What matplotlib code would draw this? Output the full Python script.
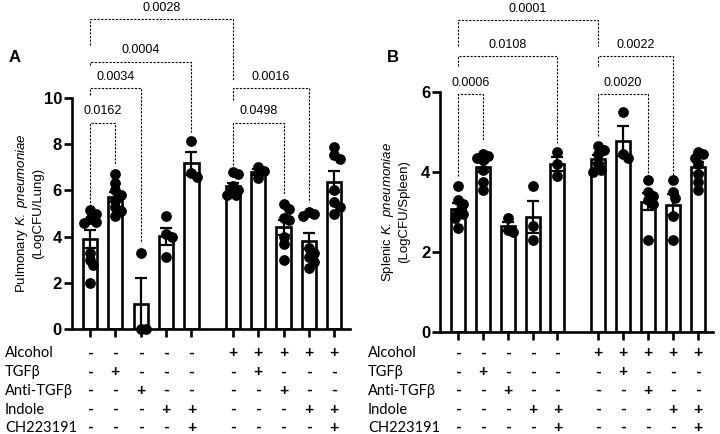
import numpy as np
import matplotlib.pyplot as plt
from matplotlib import transforms

plt.rcParams['font.family'] = ['Liberation Sans', 'DejaVu Sans']
plt.rcParams['mathtext.fontset'] = 'custom'
plt.rcParams['mathtext.rm'] = 'Liberation Sans'
plt.rcParams['mathtext.it'] = 'Liberation Sans:italic'

# treatment table under the x axis (1 = +, 0 = -)
row_names = ['Alcohol', 'TGFβ', 'Anti-TGFβ', 'Indole', 'CH223191']
alcohol = [0, 0, 0, 0, 0, 1, 1, 1, 1, 1]
tgfb = [0, 1, 0, 0, 0, 0, 1, 0, 0, 0]
anti_tgfb = [0, 0, 1, 0, 0, 0, 0, 1, 0, 0]
indole = [0, 0, 0, 1, 1, 0, 0, 0, 1, 1]
ch223191 = [0, 0, 0, 0, 1, 0, 0, 0, 0, 1]

# panel A, pulmonary CFU (log)
lung = [
    [5.15, 5.0, 4.75, 4.65, 4.6, 3.3, 3.0, 2.75, 2.0],
    [6.7, 6.3, 6.0, 5.8, 5.6, 5.3, 5.1, 4.9],
    [3.3, 0.0, 0.0],
    [4.9, 4.1, 4.0, 3.1],
    [8.15, 6.75, 6.6],
    [6.8, 6.7, 6.2, 6.0, 5.9, 5.8, 5.8],
    [7.0, 6.85, 6.55],
    [5.4, 5.2, 4.8, 4.7, 4.0, 3.7, 3.0],
    [5.05, 5.0, 4.9, 3.5, 3.3, 3.1, 2.9, 2.65],
    [7.9, 7.55, 7.35, 6.0, 5.5, 5.3, 5.0],
]
# panel B, splenic CFU (log)
spleen = [
    [3.65, 3.3, 3.2, 3.0, 2.95, 2.85, 2.6],
    [4.45, 4.4, 4.35, 4.3, 4.05, 3.75, 3.55],
    [2.85, 2.55, 2.5],
    [3.65, 2.65, 2.3],
    [4.5, 4.2, 3.9],
    [4.65, 4.55, 4.45, 4.2, 4.05, 4.0],
    [5.5, 4.45, 4.35],
    [3.8, 3.5, 3.4, 3.3, 3.2, 2.3],
    [3.8, 3.5, 3.35, 2.9, 2.3],
    [4.5, 4.45, 4.35, 4.2, 3.95, 3.75, 3.55],
]

# comparisons (group i, group j, p value)
lung_pvals = [(0, 1, '0.0162'), (0, 2, '0.0034'), (0, 4, '0.0004'),
              (0, 5, '0.0028'), (5, 7, '0.0498'), (5, 8, '0.0016')]
spleen_pvals = [(0, 1, '0.0006'), (0, 4, '0.0108'), (0, 5, '0.0001'),
                (5, 7, '0.0020'), (5, 8, '0.0022')]

# bracket geometry: bar height, left leg end, right leg end
lung_brackets = [(8.93, 5.15, 7.1), (10.42, 10.13, 3.72), (11.57, 11.43, 8.54),
                 (13.41, 12.29, 10.78), (8.93, 7.1, 5.8), (10.42, 9.91, 5.5)]
spleen_brackets = [(5.94, 3.88, 4.8), (6.88, 6.63, 4.71), (7.78, 7.13, 7.15),
                   (5.94, 4.9, 3.92), (6.88, 6.63, 3.92)]

xpos = np.array([0, 1, 2, 3, 4, 5.63, 6.63, 7.63, 8.63, 9.63])


def swarm(vals, dx, dy):
    # simple deterministic beeswarm, offsets in x data units
    vals = np.asarray(vals, float)
    offs = np.zeros(len(vals))
    placed = []
    for k in np.argsort(-vals):
        best, bestd = 0.0, -1
        for c in [0, 1, -1, 2, -2]:
            o = c * 0.11
            if placed:
                d = min(((o - po) / dx) ** 2 + ((vals[k] - pv) / dy) ** 2 for po, pv in placed)
            else:
                d = 9
            if d >= 0.4:
                best = o
                break
            if d > bestd:
                best, bestd = o, d
        offs[k] = best
        placed.append((best, vals[k]))
    return offs


def draw_panel(ax, groups, ymax, yticks, pvals, brackets, ypx):
    means = np.array([np.mean(g) for g in groups])
    sems = np.array([np.std(g, ddof=1) / np.sqrt(len(g)) for g in groups])
    ax.bar(xpos, means, width=0.56, color='white', edgecolor='black', linewidth=1.9, zorder=2)
    ax.errorbar(xpos, means, yerr=sems, fmt='none', ecolor='black', elinewidth=1.6,
                capsize=4.5, capthick=1.6, zorder=3)
    for x, g in zip(xpos, groups):
        offs = swarm(g, 0.4, 10.0 / ypx)
        ax.scatter(x + offs, g, s=60, color='black', zorder=4, clip_on=False, linewidths=0)
    for (i, j, lab), (h, l1, l2) in zip(pvals, brackets):
        xi, xj = xpos[i], xpos[j]
        ax.plot([xi, xi, xj, xj], [l1, h, h, l2], color='black', lw=0.8,
                ls=(0, (2.0, 1.3)), clip_on=False, zorder=1)
        ax.annotate(lab, ((xi + xj) / 2, h), xytext=(0, 4), textcoords='offset points',
                    ha='center', va='bottom', fontsize=9, annotation_clip=False)
    ax.set_xlim(xpos[0] - 0.72, xpos[-1] + 0.62)
    ax.set_ylim(0, ymax)
    ax.set_yticks(yticks)
    ax.set_xticks(xpos)
    ax.set_xticklabels([])
    for s in ['top', 'right']:
        ax.spines[s].set_visible(False)
    for s in ['left', 'bottom']:
        ax.spines[s].set_linewidth(1.9)
    ax.tick_params(axis='both', length=6, width=1.9)
    ax.tick_params(axis='y', labelsize=12, pad=1)
    for t in ax.get_yticklabels():
        t.set_fontweight('bold')


def draw_table(fig, ax, xlab):
    tr = transforms.blended_transform_factory(ax.transData, fig.transFigure)
    rows = [alcohol, tgfb, anti_tgfb, indole, ch223191]
    ys = [353.3, 372.3, 391, 409.7, 428]
    for name, row, y in zip(row_names, rows, ys):
        fy = 1 - y / 434
        fig.text(xlab, fy, name, ha='left', va='center', fontsize=10.5,
                 family=['Lato', 'DejaVu Sans'])
        for x, v in zip(xpos, row):
            ax.text(x, fy, '+' if v else '-', transform=tr, ha='center', va='center',
                    fontsize=11.5, fontweight='bold', family=['Lato', 'DejaVu Sans'])


fig = plt.figure(figsize=(7.2, 4.34), dpi=100)
axA = fig.add_axes([71.7 / 720, 1 - 329 / 434, 278.3 / 720, 231 / 434])
axB = fig.add_axes([440 / 720, 1 - 331.7 / 434, 273 / 720, 240 / 434])

draw_panel(axA, lung, 10, [0, 2, 4, 6, 8, 10], lung_pvals, lung_brackets, 23.1)
draw_panel(axB, spleen, 6, [0, 2, 4, 6], spleen_pvals, spleen_brackets, 40.0)

axA.set_ylabel('Pulmonary $\\it{K.\\ pneumoniae}$\n(LogCFU/Lung)', fontsize=9.5)
axA.yaxis.set_label_coords(-0.1, 0.5)
axB.set_ylabel('Splenic $\\it{K.\\ pneumoniae}$\n(LogCFU/Spleen)', fontsize=9.5)
axB.yaxis.set_label_coords(-0.11, 0.5)

draw_table(fig, axA, 5 / 720)
draw_table(fig, axB, 368 / 720)

fig.text(15 / 720, 1 - 57 / 434, 'A', ha='center', va='center', fontsize=12, fontweight='bold')
fig.text(393 / 720, 1 - 57 / 434, 'B', ha='center', va='center', fontsize=12, fontweight='bold')

fig.savefig('out.png', dpi=100)
